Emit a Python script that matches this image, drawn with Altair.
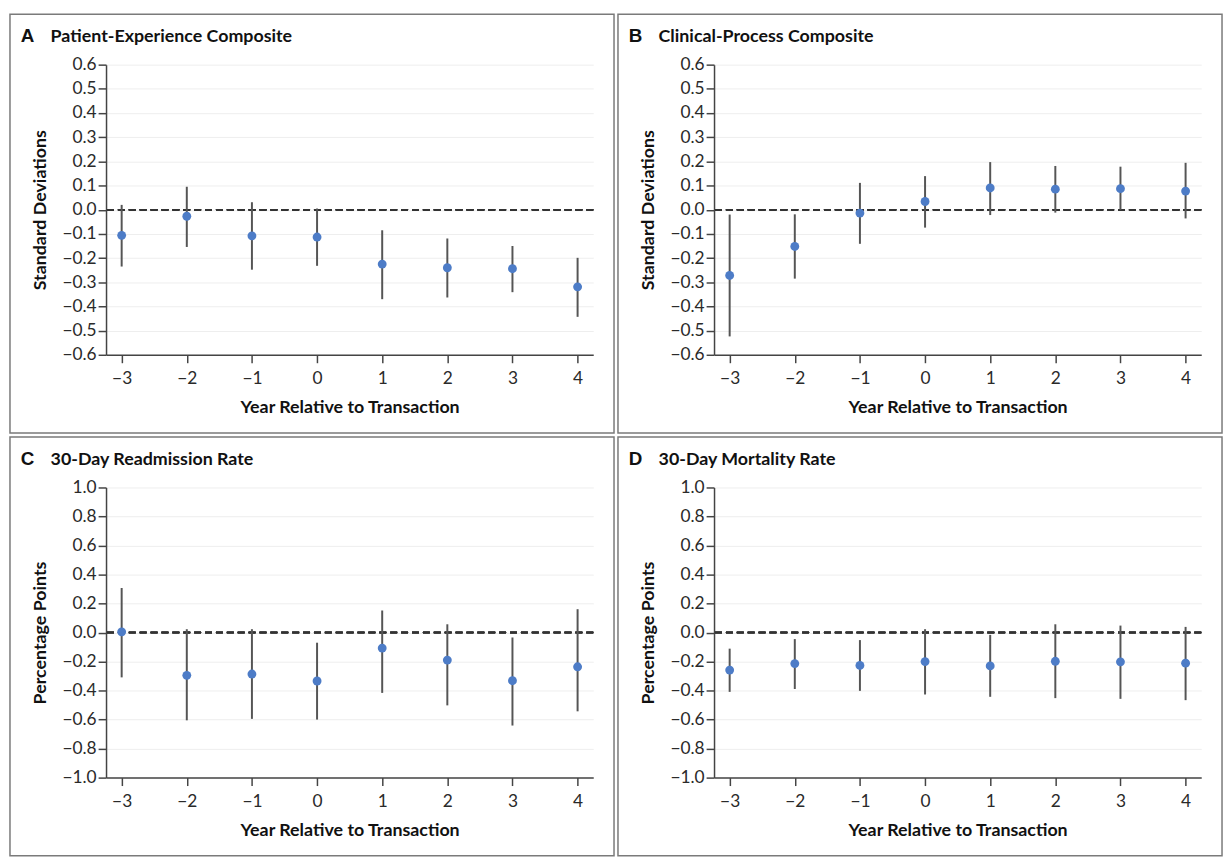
import altair as alt
import pandas as pd

years = [-3, -2, -1, 0, 1, 2, 3, 4]

# Panel A: Patient-Experience Composite
a_est = [-0.106, -0.027, -0.108, -0.113, -0.225, -0.240, -0.244, -0.319]
a_lo = [-0.235, -0.154, -0.248, -0.232, -0.370, -0.363, -0.341, -0.443]
a_hi = [0.020, 0.095, 0.031, 0.005, -0.085, -0.119, -0.150, -0.199]

# Panel B: Clinical-Process Composite
b_est = [-0.272, -0.152, -0.014, 0.034, 0.090, 0.085, 0.087, 0.077]
b_lo = [-0.524, -0.285, -0.141, -0.074, -0.022, -0.012, 0.000, -0.036]
b_hi = [-0.020, -0.019, 0.111, 0.139, 0.197, 0.181, 0.178, 0.194]

# Panel C: 30-Day Readmission Rate
c_est = [0.005, -0.295, -0.286, -0.334, -0.107, -0.190, -0.332, -0.236]
c_lo = [-0.309, -0.605, -0.595, -0.600, -0.416, -0.502, -0.641, -0.543]
c_hi = [0.307, 0.023, 0.023, -0.070, 0.152, 0.057, -0.034, 0.161]

# Panel D: 30-Day Mortality Rate
d_est = [-0.259, -0.214, -0.227, -0.200, -0.230, -0.198, -0.202, -0.211]
d_lo = [-0.409, -0.389, -0.402, -0.427, -0.443, -0.452, -0.457, -0.466]
d_hi = [-0.111, -0.045, -0.052, 0.023, -0.016, 0.057, 0.048, 0.039]

ticks_sd = [-0.6, -0.5, -0.4, -0.3, -0.2, -0.1, 0.0, 0.1, 0.2, 0.3, 0.4, 0.5, 0.6]
ticks_pp = [-1.0, -0.8, -0.6, -0.4, -0.2, 0.0, 0.2, 0.4, 0.6, 0.8, 1.0]

x_title = "Year Relative to Transaction"

FONT = "Lato"
W, H = 492, 293
AXIS_COLOR = "#444444"
TEXT_COLOR = "#2a2a2a"


def panel(letter, title, ytitle, est, lo, hi, ydomain, yticks):
    df = pd.DataFrame({"year": years, "est": est, "lo": lo, "hi": hi})
    xscale = alt.Scale(domain=[-3.24, 4.24], nice=False, zero=False)
    yscale = alt.Scale(domain=ydomain, nice=False, zero=False)
    xaxis = alt.Axis(
        values=years, format="d", title=x_title, grid=False,
        tickSize=8, labelPadding=7, titleX=W / 2, titleY=58,
        titleBaseline="alphabetic", titleAlign="center",
    )
    yaxis = alt.Axis(
        values=yticks, format=".1f", title=ytitle, grid=True,
        tickSize=8, labelPadding=2, titleX=-66, titleY=H / 2,
        titleAngle=-90, titleBaseline="middle", titleAlign="center",
    )

    frame = alt.Chart(pd.DataFrame({"k": [0]})).mark_rect(
        fillOpacity=0, stroke="#7a7a7a", strokeWidth=1.5
    ).encode(
        x=alt.value(-97), x2=alt.value(W + 21),
        y=alt.value(-51), y2=alt.value(H + 79),
    )
    letter_t = alt.Chart(pd.DataFrame({"t": [letter]})).mark_text(
        font="Liberation Sans", fontWeight="bold", fontSize=19,
        align="left", baseline="alphabetic", color="#111111",
    ).encode(text="t:N", x=alt.value(-86), y=alt.value(-23))
    title_t = alt.Chart(pd.DataFrame({"t": [title]})).mark_text(
        font=FONT, fontWeight="bold", fontSize=18,
        align="left", baseline="alphabetic", color="#111111",
    ).encode(text="t:N", x=alt.value(-56), y=alt.value(-23))

    base = alt.Chart(df)
    zero = base.mark_rule(
        color="#333333", strokeWidth=1.6, strokeDash=[7, 4]
    ).encode(y=alt.Y(datum=0, scale=yscale, axis=yaxis))
    bars = base.mark_rule(color="#555555", strokeWidth=2).encode(
        x=alt.X("year:Q", scale=xscale, axis=xaxis),
        y=alt.Y("lo:Q", scale=yscale, axis=yaxis),
        y2="hi:Q",
    )
    pts = base.mark_circle(color="#4d7cc7", opacity=1, size=80).encode(
        x=alt.X("year:Q", scale=xscale, axis=xaxis),
        y=alt.Y("est:Q", scale=yscale, axis=yaxis),
    )
    return alt.layer(frame, zero, bars, pts, letter_t, title_t).properties(
        width=W, height=H
    )


pa = panel("A", "Patient-Experience Composite", "Standard Deviations",
           a_est, a_lo, a_hi, [-0.6, 0.6], ticks_sd)
pb = panel("B", "Clinical-Process Composite", "Standard Deviations",
           b_est, b_lo, b_hi, [-0.6, 0.6], ticks_sd)
pc = panel("C", "30-Day Readmission Rate", "Percentage Points",
           c_est, c_lo, c_hi, [-1.0, 1.0], ticks_pp)
pd_ = panel("D", "30-Day Mortality Rate", "Percentage Points",
            d_est, d_lo, d_hi, [-1.0, 1.0], ticks_pp)

chart = alt.vconcat(
    alt.hconcat(pa, pb, spacing=0),
    alt.hconcat(pc, pd_, spacing=0),
    spacing=0,
).properties(padding=0, background="white").configure_view(
    stroke="transparent"
).configure_axis(
    labelFont=FONT, labelFontSize=17.5, labelColor=TEXT_COLOR,
    titleFont=FONT, titleFontSize=18, titleFontWeight="bold",
    titleColor="#111111",
    domainColor=AXIS_COLOR, domainWidth=1.5,
    tickColor=AXIS_COLOR, tickWidth=1.5,
    gridColor="#eeeeee", gridWidth=1,
)

chart.save("out.html", embed_options={"renderer": "svg", "actions": False})
